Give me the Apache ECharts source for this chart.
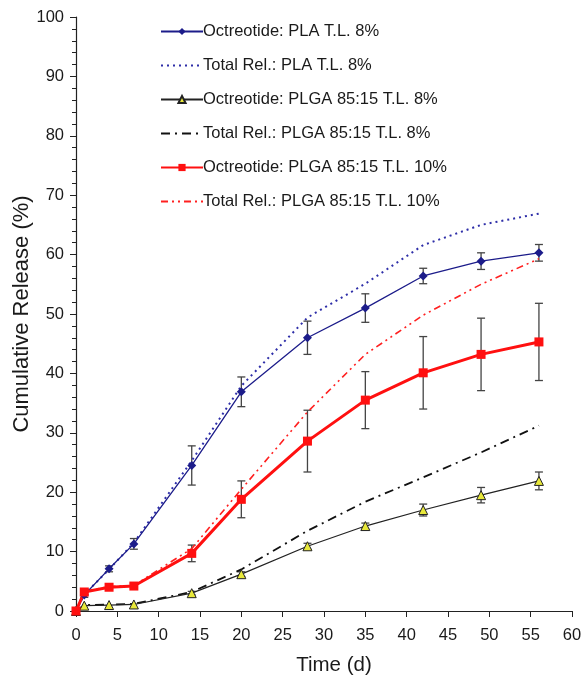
<!DOCTYPE html>
<html><head><meta charset="utf-8">
<script src="https://cdn.jsdelivr.net/npm/echarts@6/dist/echarts.min.js"></script>
<style>html,body{margin:0;padding:0;background:#fff}#c{width:585px;height:676px}</style>
</head><body><div id="c"></div>
<script>
var days = [0, 1, 4, 7, 14, 20, 28, 35, 42, 49, 56];
var plaOct = [0, 2.7, 7.1, 11.3, 24.5, 36.9, 46.0, 51.0, 56.4, 58.9, 60.3];
var plaOctErr = [0, 0.4, 0.5, 0.9, 3.3, 2.5, 2.8, 2.4, 1.3, 1.4, 1.4];
var plaTot = [0, 2.8, 7.0, 11.5, 25.3, 37.9, 49.4, 55.1, 61.6, 65.0, 66.9];
var plga8Oct = [0, 0.9, 1.0, 1.1, 3.0, 6.2, 10.9, 14.3, 17.0, 19.5, 21.9];
var plga8OctErr = [0, 0.2, 0.2, 0.2, 0.3, 0.4, 0.5, 0.5, 1.0, 1.3, 1.5];
var plga8Tot = [0, 1.0, 1.1, 1.2, 3.2, 7.0, 13.5, 18.4, 22.5, 26.7, 31.2];
var plga10Oct = [0, 3.2, 4.0, 4.2, 9.7, 18.8, 28.6, 35.5, 40.1, 43.2, 45.3];
var plga10OctErr = [0, 0.4, 0.4, 0.4, 1.4, 3.1, 5.2, 4.8, 6.1, 6.1, 6.5];
var plga10Tot = [0, 3.3, 4.1, 4.3, 10.5, 20.5, 33.5, 43.2, 49.8, 55.0, 59.3];
var names = ['Octreotide: PLA T.L. 8%', 'Total Rel.: PLA T.L. 8%', 'Octreotide: PLGA 85:15 T.L. 8%',
  'Total Rel.: PLGA 85:15 T.L. 8%', 'Octreotide: PLGA 85:15 T.L. 10%', 'Total Rel.: PLGA 85:15 T.L. 10%'];

function pairs(v){ return days.map(function(d,i){ return [d, v[i]]; }); }
function errs(v,e){ return days.map(function(d,i){ return [d, v[i]-e[i], v[i]+e[i]]; }).filter(function(r,i){return e[i]>0.25;}); }
function errSeries(v,e){
  return {
    type:'custom', silent:true, z:3, data: errs(v,e), encode:{x:0,y:[1,2]},
    renderItem:function(params, api){
      var lo = api.coord([api.value(0), api.value(1)]);
      var hi = api.coord([api.value(0), api.value(2)]);
      var w = 4;
      var st = {stroke:'#444', lineWidth:1.3};
      return {type:'group', children:[
        {type:'line', shape:{x1:lo[0],y1:lo[1],x2:hi[0],y2:hi[1]}, style:st},
        {type:'line', shape:{x1:lo[0]-w,y1:lo[1],x2:lo[0]+w,y2:lo[1]}, style:st},
        {type:'line', shape:{x1:hi[0]-w,y1:hi[1],x2:hi[0]+w,y2:hi[1]}, style:st}
      ]};
    }
  };
}
var font = 'Liberation Sans, Arial, sans-serif';
var legendData = names.map(function(n, i){
  return i % 2 === 1 ? {name:n, itemStyle:{opacity:0}} : {name:n};
});
var chart = echarts.init(document.getElementById('c'));
chart.setOption({
  animation:false,
  grid:{left:76, right:13, top:17, bottom:65, containLabel:false, outerBoundsMode:'none'},
  legend:{
    orient:'vertical', left:155, top:18, itemWidth:42, itemHeight:9, itemGap:17,
    textStyle:{fontFamily:font, fontSize:16.5, color:'#1a1a1a', padding:[0,0,0,-5]},
    data:legendData
  },
  xAxis:{
    type:'value', min:0, max:60, interval:5,
    name:'Time (d)', nameLocation:'middle', nameGap:44, nameMoveOverlap:false,
    nameTextStyle:{fontFamily:font, fontSize:20.5, color:'#1a1a1a', padding:[0,0,0,20]},
    axisLine:{lineStyle:{color:'#222', width:1.2}},
    axisTick:{show:true, length:6, lineStyle:{color:'#222'}},
    axisLabel:{fontFamily:font, fontSize:16.5, color:'#1a1a1a', margin:16},
    splitLine:{show:false}
  },
  yAxis:{
    type:'value', min:0, max:100, interval:10,
    name:'Cumulative Release (%)', nameLocation:'middle', nameGap:43, nameMoveOverlap:false,
    nameTextStyle:{fontFamily:font, fontSize:22, color:'#1a1a1a'},
    axisLine:{show:true, lineStyle:{color:'#222', width:1.2}},
    axisTick:{show:true, length:6, lineStyle:{color:'#222'}},
    minorTick:{show:true, splitNumber:5, length:4, lineStyle:{color:'#222'}},
    axisLabel:{fontFamily:font, fontSize:16.5, color:'#1a1a1a', margin:12},
    splitLine:{show:false}
  },
  series:[
    {name:names[0], type:'line', data:pairs(plaOct), symbol:'diamond', symbolSize:9, z:5,
      lineStyle:{color:'#1c1c8a', width:1.3}, itemStyle:{color:'#1c1c8a'}},
    {name:names[1], type:'line', data:pairs(plaTot), symbol:'none', z:4,
      lineStyle:{color:'#2e2ea8', width:2, type:[2,4]}, itemStyle:{color:'#2e2ea8'}},
    {name:names[2], type:'line', data:pairs(plga8Oct), symbol:'triangle', symbolSize:9, z:5,
      lineStyle:{color:'#222', width:1.2}, itemStyle:{color:'#e8e83a', borderColor:'#222', borderWidth:1}},
    {name:names[3], type:'line', data:pairs(plga8Tot), symbol:'none', z:4,
      lineStyle:{color:'#111', width:1.8, type:[9,5,2,5]}, itemStyle:{color:'#111'}},
    {name:names[4], type:'line', data:pairs(plga10Oct), symbol:'rect', symbolSize:9, z:5,
      lineStyle:{color:'#ff1010', width:3}, itemStyle:{color:'#ff1010'}},
    {name:names[5], type:'line', data:pairs(plga10Tot), symbol:'none', z:4,
      lineStyle:{color:'#ff2020', width:1.6, type:[7,4,2,4,2,4]}, itemStyle:{color:'#ff2020'}},
    errSeries(plaOct, plaOctErr),
    errSeries(plga8Oct, plga8OctErr),
    errSeries(plga10Oct, plga10OctErr)
  ]
});
</script></body></html>
